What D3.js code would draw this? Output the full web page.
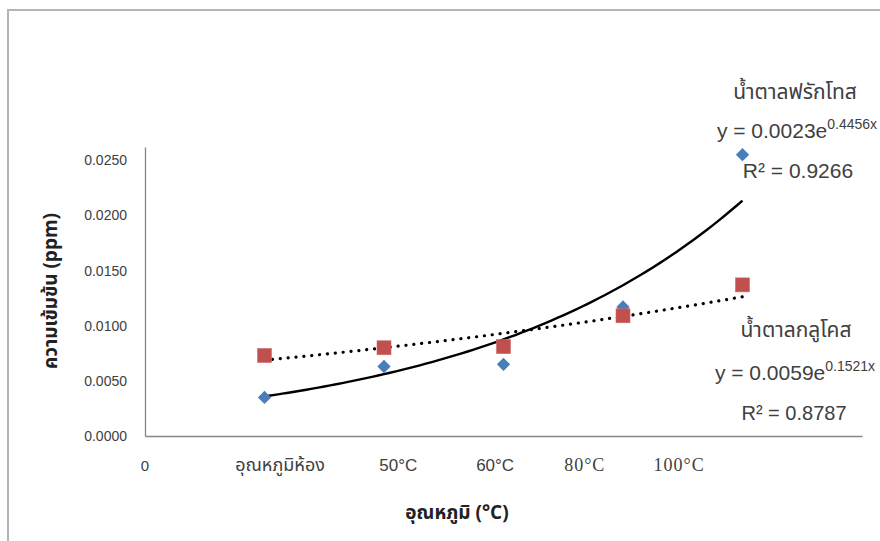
<!DOCTYPE html>
<html>
<head>
<meta charset="utf-8">
<script src="https://cdn.jsdelivr.net/npm/d3@7"></script>
<style>
  html, body { margin: 0; padding: 0; background: #fff; }
  svg { display: block; }
</style>
</head>
<body>
<svg id="chart" width="880" height="541"></svg>
<script>
// ---------- data ----------
const xCategories = ["0", "อุณหภูมิห้อง", "50°C", "60°C", "80°C", "100°C"];
const xIndex = [1, 2, 3, 4, 5];
const fructose = [0.0035, 0.0063, 0.0065, 0.0117, 0.0255];
const glucose = [0.0073, 0.0080, 0.0081, 0.0109, 0.0137];
const yTicks = [0, 0.005, 0.010, 0.015, 0.020, 0.025];
const fructoseFit = { a: 0.0023, b: 0.4456, r2: "0.9266", name: "น้ำตาลฟรักโทส" };
const glucoseFit = { a: 0.0059, b: 0.1521, r2: "0.8787", name: "น้ำตาลกลูโคส" };
const yTitle = "ความเข้มข้น (ppm)";
const xTitle = "อุณหภูมิ (°C)";

// ---------- layout ----------
const labelPos = [0, 1.13, 2.12, 2.93, 3.68, 4.47]; // where the category text boxes sit (axis units)
const labelStyle = [
  { f: "sans", s: 15, ls: 0 }, { f: "thai", s: 18, ls: 0 }, { f: "sans", s: 17, ls: 0 },
  { f: "sans", s: 17, ls: 0 }, { f: "serif", s: 18, ls: 1 }, { f: "serif", s: 18, ls: 1 }
];
const svg = d3.select("#chart");
const x = d3.scaleLinear().domain([0, 6]).range([145, 862]);
const y = d3.scaleLinear().domain([0, 0.0262]).range([436, 147]);
const fonts = {
  thai: "'Noto Sans Thai', 'Tahoma', 'Noto Sans', 'DejaVu Sans', sans-serif",
  sans: "'Liberation Sans', Arial, sans-serif",
  serif: "'Liberation Serif', 'Times New Roman', serif"
};

// outer frame (only left/top visible)
svg.append("path").attr("d", "M8,541 L8,10 L880,10")
  .attr("fill", "none").attr("stroke", "#b4b4b4").attr("stroke-width", 2);

// axes
const yAxis = d3.axisLeft(y).tickValues(yTicks).tickSize(0).tickPadding(18)
  .tickFormat(d3.format(".4f"));
const gy = svg.append("g").attr("transform", `translate(${x(0)},0)`).call(yAxis);
gy.select(".domain").attr("stroke", "#868686").attr("stroke-width", 1.3);
gy.selectAll("text").attr("font-family", fonts.sans).attr("font-size", 14).attr("fill", "#404040");

const xAxis = d3.axisBottom(x).tickValues([]).tickSize(0);
const gx = svg.append("g").attr("transform", `translate(0,${y(0)})`).call(xAxis);
gx.select(".domain").attr("stroke", "#868686").attr("stroke-width", 1.3);

// category labels
svg.append("g").selectAll("text").data(xCategories).join("text")
  .attr("x", (d, i) => x(labelPos[i]))
  .attr("y", 471)
  .attr("text-anchor", "middle")
  .attr("font-family", (d, i) => fonts[labelStyle[i].f])
  .attr("font-size", (d, i) => labelStyle[i].s)
  .attr("letter-spacing", (d, i) => labelStyle[i].ls)
  .attr("fill", "#404040")
  .text(d => d);

// axis titles
svg.append("text").attr("x", 457).attr("y", 519).attr("text-anchor", "middle")
  .attr("font-family", fonts.thai).attr("font-weight", "bold").attr("font-size", 19)
  .attr("fill", "#222").text(xTitle);
svg.append("text").attr("transform", "translate(57,291) rotate(-90)")
  .attr("text-anchor", "middle")
  .attr("font-family", fonts.thai).attr("font-weight", "bold").attr("font-size", 19)
  .attr("fill", "#222").text(yTitle);

// trendlines
const fine = d3.range(1, 5.0001, 0.05);
const line = d3.line().x(d => x(d[0])).y(d => y(d[1]));
svg.append("path")
  .attr("d", line(fine.map(t => [t, glucoseFit.a * Math.exp(glucoseFit.b * t)])))
  .attr("fill", "none").attr("stroke", "#000").attr("stroke-width", 3.2)
  .attr("stroke-linecap", "round").attr("stroke-dasharray", "0.1 7.8");
svg.append("path")
  .attr("d", line(fine.map(t => [t, fructoseFit.a * Math.exp(fructoseFit.b * t)])))
  .attr("fill", "none").attr("stroke", "#000").attr("stroke-width", 2.4);

// markers
svg.append("g").selectAll("path").data(fructose).join("path")
  .attr("d", d3.symbol().type(d3.symbolSquare).size(88))
  .attr("transform", (d, i) => `translate(${x(xIndex[i])},${y(d)}) rotate(45)`)
  .attr("fill", "#4a7ebb");
svg.append("g").selectAll("rect").data(glucose).join("rect")
  .attr("x", (d, i) => x(xIndex[i]) - 7)
  .attr("y", d => y(d) - 7)
  .attr("width", 14).attr("height", 14)
  .attr("fill", "#c0504d").attr("stroke", "#d06a68").attr("stroke-width", 0.6);

// annotations
function equation(cx, base, fit) {
  const t = svg.append("text").attr("x", cx).attr("y", base).attr("text-anchor", "middle")
    .attr("font-family", fonts.sans).attr("font-size", 21).attr("fill", "#404040");
  t.append("tspan").text(`y = ${fit.a.toFixed(4)}e`);
  t.append("tspan").attr("dy", -9).attr("font-size", 14).text(`${fit.b}x`);
}
svg.append("text").attr("x", 795).attr("y", 99).attr("text-anchor", "middle")
  .attr("font-family", fonts.thai).attr("font-size", 21).attr("fill", "#404040").text(fructoseFit.name);
equation(797, 138, fructoseFit);
svg.append("text").attr("x", 798).attr("y", 178).attr("text-anchor", "middle")
  .attr("font-family", fonts.sans).attr("font-size", 21).attr("fill", "#404040").text(`R² = ${fructoseFit.r2}`);

svg.append("text").attr("x", 796).attr("y", 337).attr("text-anchor", "middle")
  .attr("font-family", fonts.thai).attr("font-size", 21).attr("fill", "#404040").text(glucoseFit.name);
equation(795, 380, glucoseFit);
svg.append("text").attr("x", 794).attr("y", 420).attr("text-anchor", "middle")
  .attr("font-family", fonts.sans).attr("font-size", 20).attr("fill", "#404040").text(`R² = ${glucoseFit.r2}`);
</script>
</body>
</html>
